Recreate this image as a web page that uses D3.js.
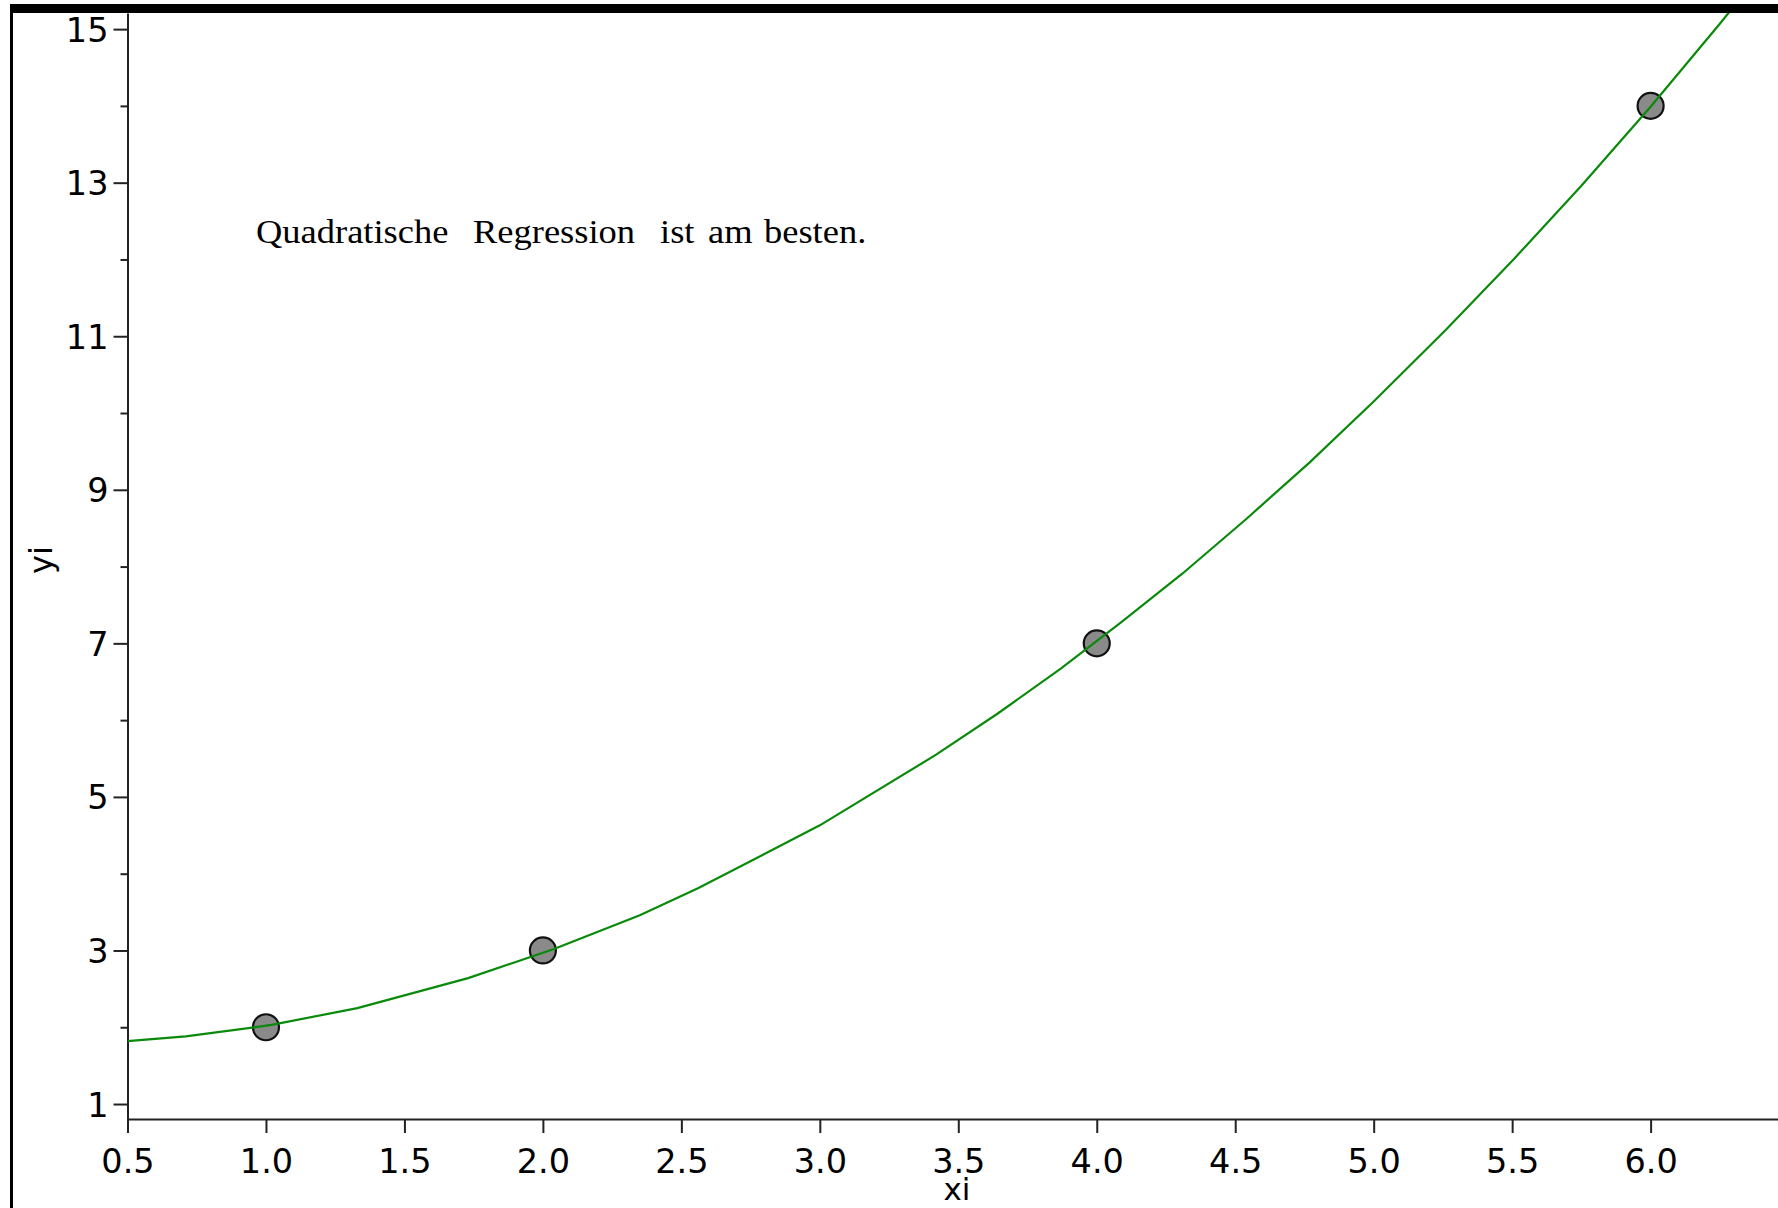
<!DOCTYPE html>
<html>
<head>
<meta charset="utf-8">
<script src="https://cdn.jsdelivr.net/npm/d3@7"></script>
<style>
  html, body { margin: 0; padding: 0; background: #fff; }
  svg { display: block; }
</style>
</head>
<body>
<svg id="chart" width="1778" height="1208"></svg>
<script>
// ---- data ----
const pointX = [1, 2, 4, 6];
const pointY = [2, 3, 7, 14];

// fitted (quadratic regression) curve, vertices
const curveX = [0.5, 0.71, 1.02, 1.33, 1.73, 2.04, 2.35, 2.56, 3.00, 3.42, 3.64, 3.87, 4.09, 4.31, 4.54, 4.77, 5.00, 5.26, 5.51, 5.75, 6.00, 6.25, 6.50];
const curveY = [1.82, 1.88, 2.03, 2.25, 2.64, 3.02, 3.46, 3.81, 4.63, 5.55, 6.08, 6.67, 7.28, 7.91, 8.62, 9.36, 10.15, 11.08, 12.02, 12.96, 13.99, 15.07, 16.19];

const xTicks = [0.5, 1.0, 1.5, 2.0, 2.5, 3.0, 3.5, 4.0, 4.5, 5.0, 5.5, 6.0];
const yMajorTicks = [1, 3, 5, 7, 9, 11, 13, 15];
const yMinorTicks = [2, 4, 6, 8, 10, 12, 14];

const xDomain = [0.5, 6.46];
const yDomain = [0.805, 15.21];

const xLabel = "xi";
const yLabel = "yi";
const note = ["Quadratische", "Regression", "ist", "am", "besten."];

(function () {
  // ---- layout ----
  const svg = d3.select("#chart");
  const pLeft = 127.5, pRight = 1778, pTop = 13, pBottom = 1119;

  const x = d3.scaleLinear().domain(xDomain).range([pLeft, pRight]);
  const y = d3.scaleLinear().domain(yDomain).range([pBottom, pTop]);

  const axisColor = "#222";
  const tickFont = "'DejaVu Sans', Verdana, sans-serif";
  const tickSize = 33.5;

  // clip for plot area
  svg.append("defs").append("clipPath").attr("id", "plotclip")
    .append("rect").attr("x", pLeft).attr("y", pTop)
    .attr("width", pRight - pLeft).attr("height", pBottom - pTop);

  // x axis
  const xAxis = d3.axisBottom(x).tickValues(xTicks).tickFormat(d3.format(".1f"))
    .tickSize(14).tickSizeOuter(0).tickPadding(16);
  const gx = svg.append("g").attr("transform", `translate(0,${pBottom})`).call(xAxis);
  gx.select(".domain").attr("stroke", axisColor).attr("stroke-width", 2);
  gx.selectAll(".tick line").attr("stroke", axisColor).attr("stroke-width", 2);
  gx.selectAll(".tick text").attr("font-family", tickFont).attr("font-size", tickSize)
    .attr("fill", "#000");

  // y axis (major)
  const yAxis = d3.axisLeft(y).tickValues(yMajorTicks).tickFormat(d3.format("d"))
    .tickSize(14).tickSizeOuter(0).tickPadding(5);
  const gy = svg.append("g").attr("transform", `translate(${pLeft},0)`).call(yAxis);
  gy.select(".domain").attr("stroke", axisColor).attr("stroke-width", 2);
  gy.selectAll(".tick line").attr("stroke", axisColor).attr("stroke-width", 2);
  gy.selectAll(".tick text").attr("font-family", tickFont).attr("font-size", tickSize)
    .attr("dy", "0.36em").attr("fill", "#000");

  // y axis minor ticks
  const yMinor = d3.axisLeft(y).tickValues(yMinorTicks).tickFormat("")
    .tickSize(7).tickSizeOuter(0);
  const gym = svg.append("g").attr("transform", `translate(${pLeft},0)`).call(yMinor);
  gym.select(".domain").remove();
  gym.selectAll(".tick line").attr("stroke", axisColor).attr("stroke-width", 2);

  // axis labels
  svg.append("text").attr("x", 957).attr("y", 1200)
    .attr("text-anchor", "middle").attr("font-family", tickFont)
    .attr("font-size", 31).attr("fill", "#000").text(xLabel);
  svg.append("text").attr("transform", "translate(52,560) rotate(-90)")
    .attr("text-anchor", "middle").attr("font-family", tickFont)
    .attr("font-size", 32).attr("fill", "#000").text(yLabel);

  // data points
  const pts = pointX.map((d, i) => ({ x: d, y: pointY[i] }));
  svg.append("g").attr("clip-path", "url(#plotclip)")
    .selectAll("circle").data(pts).enter().append("circle")
    .attr("cx", d => x(d.x)).attr("cy", d => y(d.y)).attr("r", 13)
    .attr("fill", "#8a8a8a").attr("stroke", "#111").attr("stroke-width", 2.2);

  // regression curve
  const curve = curveX.map((d, i) => [d, curveY[i]]);
  svg.append("path").attr("clip-path", "url(#plotclip)")
    .datum(curve)
    .attr("d", d3.line().x(d => x(d[0])).y(d => y(d[1])).curve(d3.curveLinear))
    .attr("fill", "none").attr("stroke", "#0a8a0a").attr("stroke-width", 2.2);

  // annotation text (serif, slightly condensed vertically)
  const wordX = [256, 473, 660, 708, 764];
  const baseY = 243;
  const tg = svg.append("g").attr("transform", `translate(0,${baseY}) scale(1,0.95)`);
  const t = tg.append("text").attr("y", 0)
    .attr("font-family", "'Liberation Serif', 'Times New Roman', serif")
    .attr("font-size", 36.5).attr("fill", "#000");
  note.forEach((w, i) => t.append("tspan").attr("x", wordX[i]).text(w));

  // window frame: top bar and left edge
  svg.append("rect").attr("x", 10).attr("y", 4).attr("width", 1768).attr("height", 9).attr("fill", "#000");
  svg.append("rect").attr("x", 10).attr("y", 4).attr("width", 3).attr("height", 1204).attr("fill", "#000");
})();
</script>
</body>
</html>
